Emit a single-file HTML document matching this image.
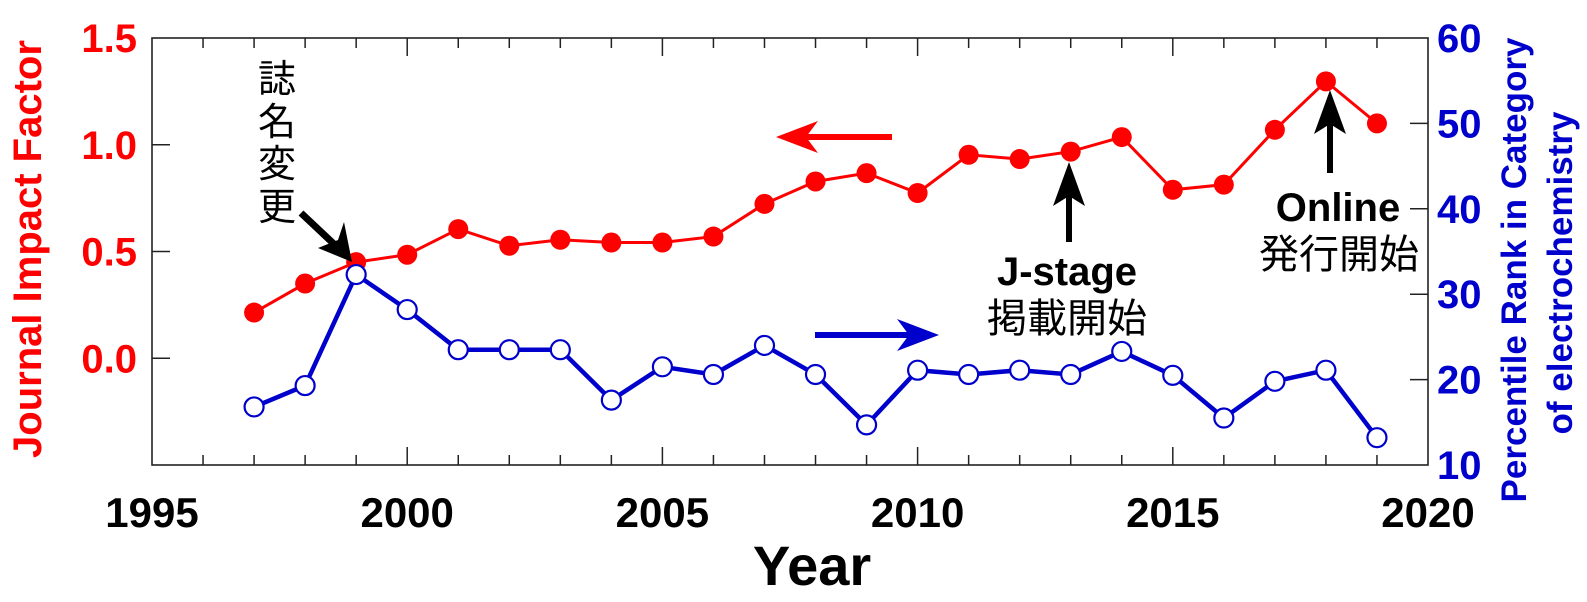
<!DOCTYPE html>
<html><head><meta charset="utf-8">
<style>
html,body{margin:0;padding:0;background:#fff;}
svg{display:block;}
text{font-family:"Liberation Sans","Noto Sans CJK JP",sans-serif;}
</style></head>
<body>
<svg id="chart" width="1587" height="602" viewBox="0 0 1587 602" xmlns="http://www.w3.org/2000/svg">
<g id="axes"></g>
<g id="series"></g>
<g id="annotations">
  <line x1="892" y1="137" x2="800" y2="137" stroke="#ff0000" stroke-width="6"/>
  <polygon points="776,137 818,121 806,137 818,153" fill="#ff0000"/>
  <line x1="815" y1="335" x2="910" y2="335" stroke="#0000cc" stroke-width="6"/>
  <polygon points="939,335 897,319 909,335 897,351" fill="#0000cc"/>
  <text font-size="38" fill="#000" text-anchor="middle">
    <tspan x="277" y="92">誌</tspan><tspan x="277" y="135">名</tspan><tspan x="277" y="177">変</tspan><tspan x="277" y="220">更</tspan>
  </text>
  <line x1="301" y1="213" x2="335" y2="245" stroke="#000" stroke-width="7"/>
  <polygon points="352,262 318,248 338,240 344,222" fill="#000"/>
  <line x1="1069" y1="242" x2="1069" y2="185" stroke="#000" stroke-width="6"/>
  <polygon points="1069,162 1053,206 1069,196 1085,206" fill="#000"/>
  <text x="1067" y="285" font-size="40" font-weight="bold" text-anchor="middle">J-stage</text>
  <text x="1067" y="332" font-size="40" text-anchor="middle">掲載開始</text>
  <line x1="1330" y1="173" x2="1330" y2="112" stroke="#000" stroke-width="6"/>
  <polygon points="1330,90 1314,134 1330,124 1346,134" fill="#000"/>
  <text x="1338" y="221" font-size="40" font-weight="bold" text-anchor="middle">Online</text>
  <text x="1339" y="268" font-size="40" text-anchor="middle">発行開始</text>
</g>
</svg>
<script>
const years = [1997,1998,1999,2000,2001,2002,2003,2004,2005,2006,2007,2008,2009,2010,2011,2012,2013,2014,2015,2016,2017,2018,2019];
const impactFactor = [0.214,0.35,0.45,0.485,0.605,0.527,0.555,0.542,0.542,0.57,0.723,0.828,0.867,0.774,0.953,0.933,0.968,1.036,0.789,0.813,1.07,1.297,1.10];
const percentileRank = [16.8,19.3,32.3,28.2,23.5,23.5,23.5,17.6,21.5,20.6,24.0,20.6,14.7,21.1,20.6,21.1,20.6,23.3,20.5,15.5,19.8,21.1,13.2];
const xTickLabels = [1995,2000,2005,2010,2015,2020];
const leftTickLabels = ["0.0","0.5","1.0","1.5"];
const leftTickValues = [0,0.5,1.0,1.5];
const rightTickValues = [10,20,30,40,50,60];

const L=152,R=1428,T=38,B=465;
const xS = y => L + (y-1995)/(2020-1995)*(R-L);
const yL = v => B - (v-(-0.5))/(1.5-(-0.5))*(B-T);
const yR = v => B - (v-10)/(60-10)*(B-T);
const NS="http://www.w3.org/2000/svg";
function mk(tag, attrs, parent){const e=document.createElementNS(NS,tag);for(const k in attrs)e.setAttribute(k,attrs[k]);parent.appendChild(e);return e;}
const axes=document.getElementById('axes'), series=document.getElementById('series');

const frame=mk('rect',{x:L,y:T,width:R-L,height:B-T,fill:'none',stroke:'#222','stroke-width':1.6},axes);



for(let yr=1995; yr<=2020; yr++){
  const x=xS(yr), len=(yr%5===0)?18:10;
  if(yr===1995||yr===2020) continue;
  const t1=mk('line',{x1:x,y1:B,x2:x,y2:B-len,stroke:'#222','stroke-width':1.5},axes);
  
  
  const t2=mk('line',{x1:x,y1:T,x2:x,y2:T+len,stroke:'#222','stroke-width':1.5},axes);
  
  
}
xTickLabels.forEach(v=>{
  const t=mk('text',{x:xS(v),y:527,'font-size':42,'font-weight':'bold','text-anchor':'middle',fill:'#000'},axes);
  
  
  t.textContent=v;
});
leftTickValues.forEach((v,i)=>{
  const y=yL(v);
  if(v>-0.5 && v<1.5){
    const tk=mk('line',{x1:L,y1:y,x2:L+18,y2:y,stroke:'#222','stroke-width':1.5},axes);
    
    
  }
  const t=mk('text',{x:137,y:y+14,'font-size':40,'font-weight':'bold','text-anchor':'end',fill:'#ff0000'},axes);
  
  
  t.textContent=leftTickLabels[i];
});
rightTickValues.forEach(v=>{
  const y=yR(v);
  if(v>10 && v<60){
    const tk=mk('line',{x1:R,y1:y,x2:R-18,y2:y,stroke:'#222','stroke-width':1.5},axes);
    
    
  }
  const t=mk('text',{x:1437,y:y+14,'font-size':40,'font-weight':'bold','text-anchor':'start',fill:'#0000cc'},axes);
  
  
  t.textContent=v;
});
const xt=mk('text',{x:812,y:585,'font-size':56,'font-weight':'bold','text-anchor':'middle',fill:'#000'},axes);


xt.textContent='Year';
const lt=mk('text',{x:0,y:0,'font-size':40,'font-weight':'bold','text-anchor':'middle',fill:'#ff0000',transform:'translate(41,249) rotate(-90)'},axes);


lt.textContent='Journal Impact Factor';
const rt1=mk('text',{x:0,y:0,'font-size':35,'font-weight':'bold','text-anchor':'middle',fill:'#0000cc',transform:'translate(1526,270) rotate(-90)'},axes);


rt1.textContent='Percentile Rank in Category';
const rt2=mk('text',{x:0,y:0,'font-size':35,'font-weight':'bold','text-anchor':'middle',fill:'#0000cc',transform:'translate(1572,273) rotate(-90)'},axes);


rt2.textContent='of electrochemistry';

const bl=mk('polyline',{points:years.map((y,i)=>xS(y)+','+yR(percentileRank[i])).join(' '),fill:'none',stroke:'#0000cc','stroke-width':4.5},series);


const rl=mk('polyline',{points:years.map((y,i)=>xS(y)+','+yL(impactFactor[i])).join(' '),fill:'none',stroke:'#ff0000','stroke-width':3},series);


years.forEach((y,i)=>{
  const c=mk('circle',{cx:xS(y),cy:yL(impactFactor[i]),r:10,fill:'#ff0000'},series);
  
  
});
years.forEach((y,i)=>{
  const c=mk('circle',{cx:xS(y),cy:yR(percentileRank[i]),r:9.5,fill:'#fff',stroke:'#0000cc','stroke-width':2.2},series);
  
  
});
</script>
</body></html>
